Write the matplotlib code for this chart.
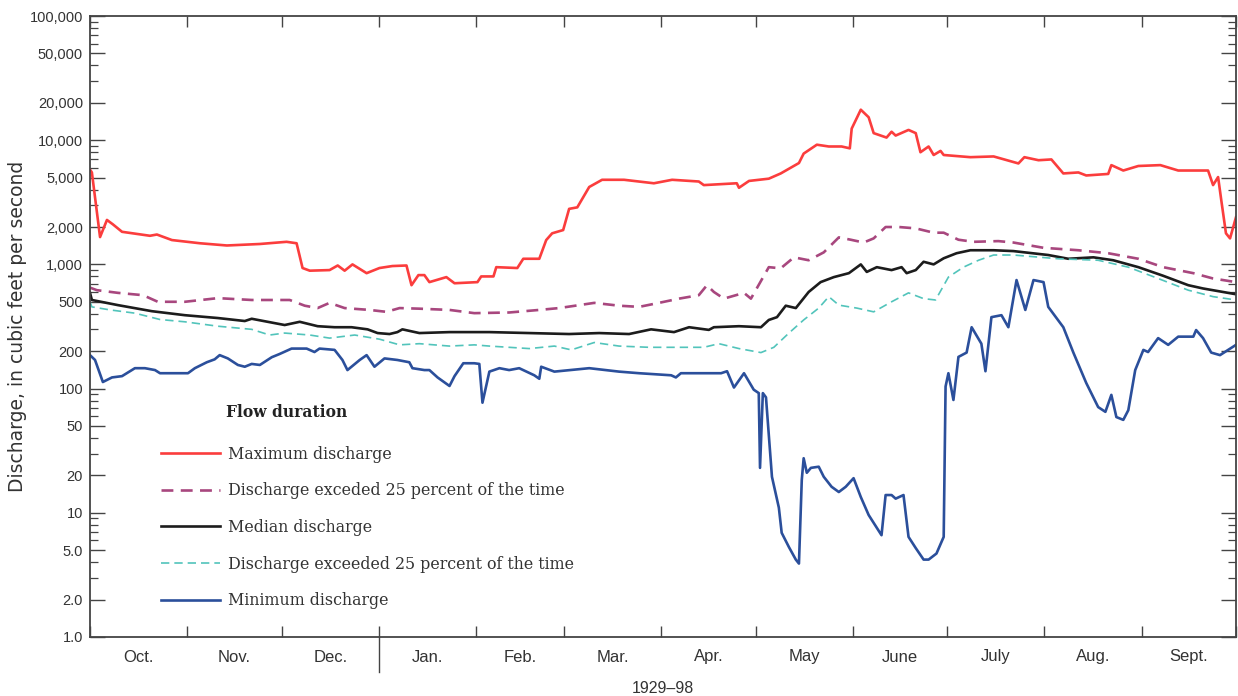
import numpy as np
import matplotlib
matplotlib.use('Agg')
import matplotlib.pyplot as plt
from matplotlib.ticker import FixedLocator, NullFormatter, FixedFormatter


# ------------------------------------------------------- #
# Datos (dia del año hidrologico, desde 1 oct.)

max_day = [0, 0.6, 3.2, 5.4, 7.3, 10.2, 19.1, 21.3, 26.1, 35.0, 43.6, 54.1, 62.6, 65.8,
           67.7, 70.0, 76.3, 78.9, 81.1, 83.6, 88.1, 92.2, 96.3, 100.8, 102.4, 104.6,
           106.5, 108.1, 113.5, 116.1, 123.4, 124.6, 128.5, 129.4, 136.1, 138.0, 143.1,
           145.3, 147.2, 150.7, 152.6, 155.2, 159.0, 163.1, 170.1, 179.6, 185.4, 193.9,
           195.5, 206.0, 206.7, 209.9, 216.2, 220.0, 225.8, 227.3, 231.5, 235.3, 239.4,
           242.0, 242.6, 245.5, 248.0, 249.6, 253.7, 255.3, 256.6, 260.7, 263.0, 264.5,
           267.1, 268.7, 270.9, 271.9, 280.4, 287.8, 295.7, 297.6, 302.1, 306.2, 310.0,
           314.8, 317.3, 324.3, 325.3, 329.1, 333.9, 340.9, 346.6, 356.1, 357.7, 359.3,
           360.3, 361.8, 363.1, 365]
max_q = [5800, 5500, 1660, 2280, 2100, 1830, 1700, 1740, 1570, 1480, 1420, 1460, 1520, 1480,
         935, 890, 900, 980, 890, 1000, 850, 935, 970, 980, 680, 820,
         820, 720, 790, 705, 720, 800, 800, 950, 935, 1110, 1110,
         1570, 1780, 1890, 2800, 2880, 4200, 4800, 4800, 4500, 4800, 4650,
         4350, 4500, 4140, 4700, 4900, 5400, 6550, 7800, 9200, 8900, 8900,
         8600, 12400, 17600, 15300, 11400, 10500, 11700, 10900, 12100, 11400, 8000,
         8900, 7600, 8200, 7600, 7300, 7400, 6500, 7300, 6900, 7000, 5400,
         5500, 5200, 5350, 6300, 5700, 6200, 6300, 5700, 5700, 4350, 5050,
         3300, 1780, 1620, 2400]

p75_day = [0, 2.2, 8.9, 16.9, 21.6, 30.2, 40.7, 51.5, 63.6, 68.4, 72.5, 76.3, 81.1, 89.0,
           94.4, 98.6, 104.9, 114.5, 122.4, 133.5, 143.1, 149.4, 155.8, 160.6, 168.5,
           174.9, 181.2, 187.6, 193.9, 196.5, 198.7, 201.9, 208.3, 210.5, 216.2, 220.0,
           224.2, 228.9, 233.7, 238.5, 242.3, 246.4, 249.6, 253.4, 257.6, 263.0, 268.7,
           271.9, 276.6, 281.4, 289.3, 294.1, 303.7, 314.8, 324.3, 333.9, 341.8, 351.4,
           357.7, 365]
p75_q = [650, 620, 590, 565, 500, 500, 535, 517, 517, 465, 445, 490, 445, 430,
         415, 445, 440, 430, 405, 410, 430, 445, 470, 490, 465,
         455, 490, 530, 565, 680, 600, 530, 590, 530, 950, 930,
         1140, 1080, 1250, 1650, 1580, 1500, 1620, 2000, 2000, 1950, 1800,
         1800, 1580, 1520, 1540, 1500, 1360, 1300, 1230, 1110, 950, 850,
         770, 720]

med_day = [0, 0.6, 8.9, 19.7, 30.2, 40.7, 49.3, 51.5, 62.0, 66.8, 72.5, 77.9, 83.3, 88.4,
           91.6, 95.4, 97.9, 99.5, 104.9, 114.5, 127.2, 139.9, 152.6, 162.2, 171.7,
           178.7, 186.0, 190.8, 197.1, 198.7, 206.7, 213.7, 216.2, 218.8, 221.6, 224.8,
           228.9, 232.7, 236.9, 241.7, 245.5, 247.4, 250.6, 255.3, 258.5, 260.1, 263.0,
           265.5, 268.7, 271.9, 276.0, 280.4, 287.8, 294.1, 305.2, 311.6, 319.6, 325.9,
           333.9, 341.8, 349.8, 354.5, 365]
med_q = [590, 517, 470, 420, 390, 370, 350, 365, 325, 345, 318, 312, 312, 300,
         280, 275, 285, 300, 280, 285, 285, 280, 275, 280, 275,
         300, 285, 312, 297, 312, 318, 312, 357, 376, 465, 445,
         600, 720, 790, 850, 1000, 870, 950, 900, 950, 850, 900,
         1050, 1000, 1120, 1230, 1300, 1300, 1280, 1190, 1110, 1140, 1080,
         950, 810, 680, 640, 575]

p25_day = [0, 0.6, 6.4, 14.3, 22.3, 30.2, 40.7, 51.5, 57.2, 62.0, 70.0, 76.3, 84.3, 92.2,
           98.6, 104.9, 114.5, 122.4, 127.2, 133.5, 139.9, 147.9, 153.3, 160.6, 168.5,
           178.1, 187.6, 195.5, 200.3, 206.7, 213.7, 217.8, 222.6, 227.3, 232.1, 235.3,
           238.5, 244.2, 249.6, 255.3, 260.7, 265.5, 269.3, 273.4, 278.2, 283.0, 287.8,
           294.1, 308.4, 321.1, 330.7, 340.2, 349.8, 357.7, 365]
p25_q = [500, 455, 430, 405, 360, 345, 318, 300, 270, 280, 270, 255, 270, 250,
         225, 230, 220, 225, 220, 215, 210, 220, 205, 235, 220,
         215, 215, 215, 230, 210, 195, 215, 280, 357, 445, 550,
         470, 445, 415, 500, 590, 530, 517, 790, 950, 1080, 1190,
         1190, 1110, 1080, 950, 770, 620, 550, 517]

min_day = [0, 1.6, 4.1, 7.0, 10.2, 14.3, 17.5, 20.7, 22.3, 27.0, 31.2, 33.4, 37.2, 39.7,
           41.3, 43.9, 47.1, 49.3, 51.5, 54.1, 57.9, 60.4, 64.2, 69.0, 71.5, 73.1, 77.9,
           80.4, 82.0, 85.9, 88.1, 90.6, 93.8, 97.9, 101.7, 102.7, 106.5, 108.1, 110.7,
           114.5, 116.1, 118.9, 122.4, 124.0, 125.0, 127.2, 130.4, 133.5, 136.7, 141.5,
           143.1, 143.7, 147.9, 159.0, 168.5, 174.9, 185.1, 186.6, 188.2, 193.9, 201.0,
           202.9, 205.1, 208.3, 211.4, 213.0, 213.4, 214.3, 215.3, 217.2, 219.4, 220.3,
           222.6, 224.8, 225.8, 226.7, 227.3, 228.3, 229.6, 232.1, 233.7, 236.2, 238.5,
           240.7, 243.2, 245.5, 248.0, 252.1, 253.4, 255.3, 256.6, 259.1, 260.7, 263.0,
           265.5, 267.1, 269.6, 271.9, 272.5, 273.4, 275.0, 276.6, 279.2, 280.8, 283.9,
           285.2, 287.1, 290.3, 292.5, 295.1, 297.9, 300.5, 303.7, 305.2, 310.0, 313.2,
           317.3, 321.1, 323.4, 325.3, 326.9, 329.1, 330.7, 332.9, 335.5, 337.0, 340.2,
           343.4, 346.6, 351.4, 352.3, 354.5, 357.1, 359.9, 362.5, 365]
min_q = [186, 170, 113, 123, 126, 146, 146, 141, 133, 133, 133, 146, 163, 172,
         186, 175, 155, 150, 158, 155, 179, 190, 210, 210, 197, 210, 205,
         170, 141, 170, 186, 150, 175, 170, 163, 146, 141, 141, 123,
         105, 126, 160, 160, 158, 77, 137, 146, 141, 146, 128,
         120, 150, 137, 146, 137, 133, 128, 123, 133, 133, 133,
         138, 102, 133, 98, 92, 23, 92, 85, 19.5, 11, 6.9,
         5.3, 4.2, 3.9, 18.4, 27.5, 21, 23, 23.5, 19.5, 16.2, 14.7,
         16.2, 19, 13.4, 9.6, 6.6, 13.9, 13.9, 13.0, 13.9, 6.4, 5.2,
         4.2, 4.2, 4.7, 6.4, 104, 133, 81, 180, 195, 312, 230,
         138, 376, 390, 312, 748, 430, 748, 720, 455, 312, 195,
         111, 71, 65, 89, 59, 56, 67, 141, 205, 197, 255,
         225, 262, 262, 296, 255, 195, 186, 205, 225]

month_edges = [0, 31, 61, 92, 123, 151, 182, 212, 243, 273, 304, 335, 365]
month_labels = ['Oct.', 'Nov.', 'Dec.', 'Jan.', 'Feb.', 'Mar.', 'Apr.', 'May', 'June',
                'July', 'Aug.', 'Sept.']
y_ticks = [1, 2, 5, 10, 20, 50, 100, 200, 500, 1000, 2000, 5000, 10000, 20000, 50000, 100000]
y_labels = ['1.0', '2.0', '5.0', '10', '20', '50', '100', '200', '500', '1,000', '2,000',
            '5,000', '10,000', '20,000', '50,000', '100,000']

# ------------------------------------------------------- #
# Grafico

txt = '#333333'
plt.rcParams['font.family'] = ['Liberation Sans', 'DejaVu Sans']

fig = plt.figure(figsize=(12.38, 6.96), dpi=100)
ax = fig.add_axes([90 / 1238, 1 - 637 / 696, 1146 / 1238, 621 / 696])

ax.plot(max_day, max_q, color='#fb3d3d', lw=1.9, label='Maximum discharge')
ax.plot(p75_day, p75_q, color='#a8477e', lw=1.9, dashes=(4.5, 2.8),
        label='Discharge exceded 25 percent of the time')
ax.plot(med_day, med_q, color='#1c1c1c', lw=1.9, label='Median discharge')
ax.plot(p25_day, p25_q, color='#52c4bb', lw=1.2, dashes=(5, 3),
        label='Discharge exceeded 25 percent of the time')
ax.plot(min_day, min_q, color='#2b4f9b', lw=1.9, label='Minimum discharge')

ax.set_yscale('log')
ax.set_ylim(1, 100000)
ax.set_xlim(0, 365)

# eje y
ax.yaxis.set_major_locator(FixedLocator(y_ticks))
ax.yaxis.set_major_formatter(FixedFormatter(y_labels))
minor_y = [m * 10 ** e for e in range(0, 5) for m in [3, 4, 6, 7, 8, 9]]
ax.yaxis.set_minor_locator(FixedLocator(minor_y))
ax.yaxis.set_minor_formatter(NullFormatter())
ax.tick_params(axis='y', which='major', direction='in', length=11, width=1.0,
               left=True, right=True, labelsize=10.5, labelcolor=txt, color='#444444', pad=5)
ax.tick_params(axis='y', which='minor', direction='in', length=6, width=0.9,
               left=True, right=True, color='#444444')

# eje x
mids = [(month_edges[i] + month_edges[i + 1]) / 2 for i in range(12)]
ax.xaxis.set_major_locator(FixedLocator(month_edges))
ax.xaxis.set_major_formatter(NullFormatter())
ax.xaxis.set_minor_locator(FixedLocator(mids))
ax.xaxis.set_minor_formatter(FixedFormatter(month_labels))
ax.tick_params(axis='x', which='major', direction='in', length=8, width=1.0,
               top=True, bottom=True, color='#444444')
ax.tick_params(axis='x', which='minor', length=0, labelsize=12, labelcolor=txt, pad=9)

# linea de cambio de año
ax.plot([month_edges[3], month_edges[3]], [0, -0.057], color='#444444', lw=1.0,
        transform=ax.get_xaxis_transform(), clip_on=False)

for s in ax.spines.values():
    s.set_color('#444444')
    s.set_linewidth(1.3)

ax.set_ylabel('Discharge, in cubic feet per second', fontsize=13.5, color=txt,
              family='DejaVu Sans', labelpad=2)
ax.set_xlabel('1929\u201398', fontsize=11.5, color=txt, labelpad=12)

# leyenda
ax.text(0.1187, 0.362, 'Flow duration', transform=ax.transAxes, fontsize=11.2,
        fontweight='bold', family='DejaVu Serif', color='#222222', va='center')
leg = ax.legend(loc='upper left', bbox_to_anchor=(0.062, 0.308), frameon=False,
                borderpad=0, borderaxespad=0, handlelength=3.7, handletextpad=0.55,
                labelspacing=1.24, prop={'family': 'DejaVu Serif', 'size': 11.4})
for t in leg.get_texts():
    t.set_color('#333333')

fig.savefig('out.png', dpi=100, facecolor='white')
